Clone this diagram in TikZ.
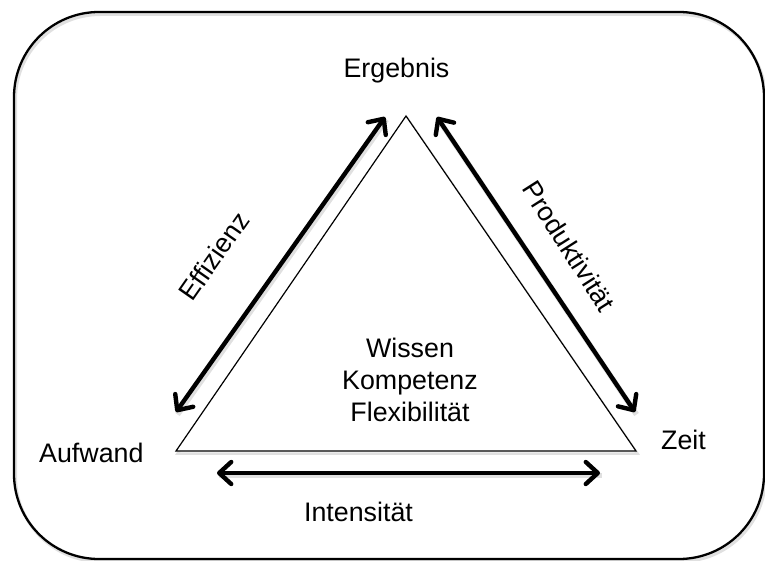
\documentclass[tikz,border=0pt]{standalone}
\usepackage{fontspec}
\setmainfont{Liberation Sans}
\usetikzlibrary{arrows.meta}
\begin{document}
\begin{tikzpicture}[x=1pt,y=-1pt,
  lbl/.style={font=\fontsize{26.8}{32}\selectfont, inner sep=0pt},
  frame/.style={line width=2.3pt, rounded corners=85pt},
  tri/.style={line width=1.2pt, line join=miter},
  biarrow/.style={line width=4.4pt,
    {Straight Barb[length=12pt,width=22pt,round]}-{Straight Barb[length=12pt,width=22pt,round]}},
  softshadow/.style={draw=black, opacity=0.12, line width=#1,
    transform canvas={shift={(1.5pt,-2.5pt)}}},
]
\useasboundingbox (0,0) rectangle (765,561);

% outer frame
\draw[softshadow=3pt, rounded corners=85pt] (14,12) rectangle (764,559);
\draw[frame] (14,12) rectangle (764,559);

% triangle corners
\coordinate (top) at (406,116);
\coordinate (bl)  at (176,451);
\coordinate (br)  at (636,451);

% arrow end points
\coordinate (eff1) at (176,412);
\coordinate (eff2) at (385,117);
\coordinate (pro1) at (437,117);
\coordinate (pro2) at (635,412);
\coordinate (int1) at (217,473);
\coordinate (int2) at (600,473);

% triangle
\draw[softshadow=2.5pt] (top) -- (br) -- (bl) -- cycle;
\draw[tri, fill=white] (top) -- (br) -- (bl) -- cycle;

% double-headed arrows
\draw[softshadow=5.5pt] (eff1) -- (eff2);
\draw[softshadow=5.5pt] (pro1) -- (pro2);
\draw[softshadow=5.5pt] (int1) -- (int2);
\draw[biarrow] (eff1) -- (eff2);
\draw[biarrow] (pro1) -- (pro2);
\draw[biarrow] (int1) -- (int2);

% corner labels
\node[lbl, anchor=base] (ergebnis) at (396.5,78) {Ergebnis};
\node[lbl, anchor=base west] (aufwand) at (39,462) {Aufwand};
\node[lbl, anchor=base west] (zeit) at (661,449) {Zeit};

% edge labels
\node[lbl, rotate=55] (effizienz) at (214,256) {Effizienz};
\node[lbl, rotate=-57.5] (produkt) at (569,246) {Produktivität};
\node[lbl, anchor=base] (intens) at (358.5,521) {Intensität};

% centre text
\node[lbl, anchor=base] (wissen) at (410,357) {Wissen};
\node[lbl, anchor=base] (kompetenz) at (410,389) {Kompetenz};
\node[lbl, anchor=base] (flex) at (410,421) {Flexibilität};
\end{tikzpicture}
\end{document}
